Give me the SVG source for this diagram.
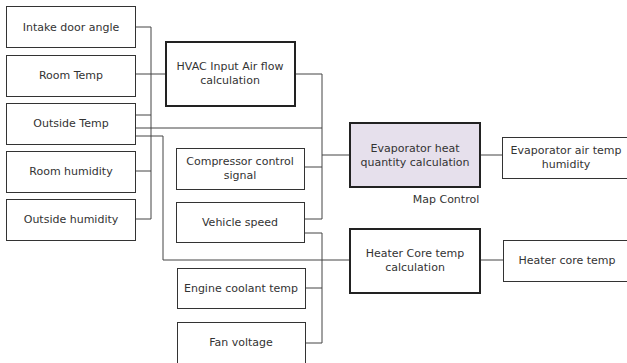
<svg xmlns="http://www.w3.org/2000/svg" width="627" height="363" viewBox="0 0 627 363">
<style>
.box{fill:#fff;stroke:#333;stroke-width:1}
.calc{fill:#fff;stroke:#222;stroke-width:2}
.evap{fill:#e6e0ec;stroke:#222;stroke-width:2}
text{font-family:"DejaVu Sans",Verdana,sans-serif;font-size:11px;fill:#333;text-anchor:middle}
.conn path{fill:none;stroke:#444;stroke-width:1}
</style>
<rect width="627" height="363" fill="#fff"/>
<g class="conn" id="connectors">
<path d="M136 27H151V219H136"/>
<path d="M136 74H166"/>
<path d="M136 115H151"/>
<path d="M136 171H151"/>
<path d="M136 128H322"/>
<path d="M136 136H163V260H350"/>
<path d="M295 74H322V219H305"/>
<path d="M305 167H322"/>
<path d="M322 155H350"/>
<path d="M480 155H502"/>
<path d="M305 233H322V343H306"/>
<path d="M306 288H322"/>
<path d="M480 260H503"/>
</g>
<g id="intake"><rect class="box" x="6.5" y="6.5" width="129" height="41"/><text x="71" y="31">Intake door angle</text></g>
<g id="roomtemp"><rect class="box" x="6.5" y="55.5" width="129" height="41"/><text x="71" y="79">Room Temp</text></g>
<g id="outsidetemp"><rect class="box" x="6.5" y="103.5" width="129" height="41"/><text x="71" y="127">Outside Temp</text></g>
<g id="roomhum"><rect class="box" x="6.5" y="151.5" width="129" height="41"/><text x="71" y="175">Room humidity</text></g>
<g id="outsidehum"><rect class="box" x="6.5" y="199.5" width="129" height="41"/><text x="71" y="223">Outside humidity</text></g>
<g id="hvac"><rect class="calc" x="166" y="42" width="129" height="64"/><text x="230" y="70">HVAC Input Air flow</text><text x="230" y="84">calculation</text></g>
<g id="compressor"><rect class="box" x="176.5" y="148.5" width="128" height="41"/><text x="240" y="165">Compressor control</text><text x="240" y="179">signal</text></g>
<g id="vehicle"><rect class="box" x="176.5" y="202.5" width="128" height="40"/><text x="240" y="226">Vehicle speed</text></g>
<g id="engine"><rect class="box" x="177.5" y="268.5" width="128" height="40"/><text x="241" y="292">Engine coolant temp</text></g>
<g id="fan"><rect class="box" x="177.5" y="322.5" width="128" height="46"/><text x="241" y="346">Fan voltage</text></g>
<g id="evaporator"><rect class="evap" x="350" y="123" width="130" height="64"/><text x="415" y="152">Evaporator heat</text><text x="415" y="166">quantity calculation</text><text x="446" y="203">Map Control</text></g>
<g id="heatercalc"><rect class="calc" x="350" y="229" width="130" height="64"/><text x="415" y="257">Heater Core temp</text><text x="415" y="271">calculation</text></g>
<g id="evapout"><rect class="box" x="502.5" y="137.5" width="130" height="41"/><text x="566" y="154">Evaporator air temp</text><text x="566" y="168">humidity</text></g>
<g id="heaterout"><rect class="box" x="503.5" y="240.5" width="130" height="41"/><text x="567" y="264">Heater core temp</text></g>
</svg>
